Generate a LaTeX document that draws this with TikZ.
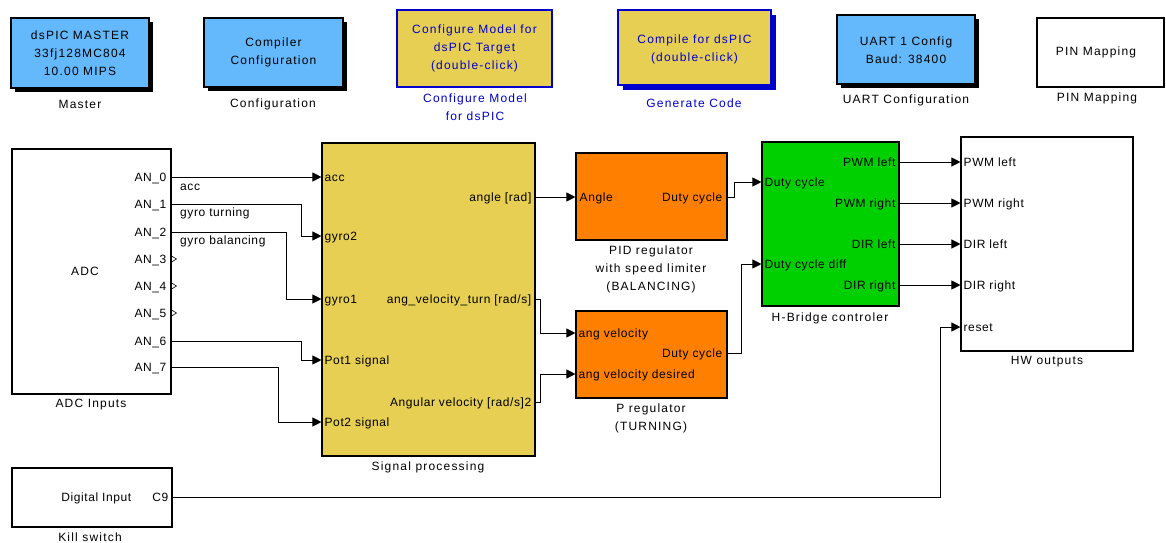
\documentclass[tikz,border=0pt]{standalone}
\usepackage{fontspec}
\setmainfont{Liberation Sans}[LetterSpace=5]
\usetikzlibrary{arrows.meta}
\definecolor{sblue}{RGB}{99,185,252}
\definecolor{syellow}{RGB}{230,207,82}
\definecolor{sorange}{RGB}{255,128,0}
\definecolor{sgreen}{RGB}{0,208,0}
\definecolor{dblue}{RGB}{0,0,205}
\begin{document}
\begin{tikzpicture}[x=1pt,y=-1pt,
  box/.style={draw=black, line width=1.1pt, inner sep=0pt, rectangle},
  txt/.style={font=\fontsize{12}{18}\selectfont\addfontfeature{LetterSpace=10}, inner sep=0pt, align=center},
  lbl/.style={font=\fontsize{12}{18}\selectfont\addfontfeature{LetterSpace=10}, inner sep=0pt, align=center},
  port/.style={font=\fontsize{12}{13}\selectfont, inner sep=0pt, text height=8.5pt, text depth=0pt},
  wire/.style={line width=1pt},
  arr/.style={wire, -{Triangle[length=9pt,width=9pt]}},
  shad/.style={fill=black},
]
\useasboundingbox (0,0) rectangle (1166,542);

% ---------- top row ----------
\fill[shad] (15,22) rectangle (153,92);
\node[box, fill=sblue, minimum width=138pt, minimum height=70pt] (master) at (80,53) {};
\node[txt] at (master.center) {dsPIC MASTER\\33fj128MC804\\10.00 MIPS};
\node[lbl] (masterl) at (80,104) {Master};

\fill[shad] (208,22) rectangle (347,91);
\node[box, fill=sblue, minimum width=139pt, minimum height=69pt] (comp) at (273.5,52.5) {};
\node[txt] at (comp.center) {Compiler\\Configuration};
\node[lbl] (compl) at (273,104) {Configuration};

\node[box, draw=dblue, fill=syellow, minimum width=155pt, minimum height=77pt] (cfgm) at (474.5,48.5) {};
\node[txt, text=dblue] at (474.5,48) {Configure Model for\\dsPIC Target\\(double-click)};
\node[lbl, text=dblue] (cfgml) at (475,107) {Configure Model\\for dsPIC};

\fill[dblue] (623,15) rectangle (776,90);
\node[box, draw=dblue, fill=syellow, minimum width=153pt, minimum height=75pt] (gen) at (694.5,47.5) {};
\node[txt, text=dblue] at (694.5,49) {Compile for dsPIC\\(double-click)};
\node[lbl, text=dblue] (genl) at (694,103) {Generate Code};

\fill[shad] (841,19) rectangle (979,88);
\node[box, fill=sblue, minimum width=138pt, minimum height=69pt] (uart) at (906,49.5) {};
\node[txt] at (906,50) {UART 1 Config\\Baud: 38400};
\node[lbl] (uartl) at (906,100) {UART Configuration};

\node[box, fill=white, minimum width=127pt, minimum height=69pt] (pin) at (1100.5,52.5) {};
\node[txt] at (1096,52) {PIN Mapping};
\node[lbl] (pinl) at (1097,98) {PIN Mapping};

% ---------- ADC ----------
\node[box, fill=white, minimum width=159pt, minimum height=245pt] (adc) at (91.5,271.5) {};
\node[txt] at (85,271) {ADC};
\node[lbl] (adcl) at (91,405) {ADC Inputs};
\foreach \n/\yy in {0/177,1/204,2/232,3/259,4/286,5/313,6/341,7/367}{
  \coordinate (a\n) at (adc.east |- 0,\yy);
  \node[port, anchor=east] at ([xshift=-5pt]a\n) {AN\_\n};
}
\foreach \n in {3,4,5}{
  \draw[line width=0.6pt] ([yshift=-3pt]a\n) -- ([xshift=5pt]a\n) -- ([yshift=3pt]a\n) -- cycle;
}

% ---------- Signal processing ----------
\node[box, fill=syellow, minimum width=213pt, minimum height=313pt] (sp) at (428.5,299.5) {};
\node[lbl] (spl) at (428,467) {Signal processing};
\coordinate (sacc) at (sp.west |- 0,177);
\coordinate (sg2) at (sp.west |- 0,236);
\coordinate (sg1) at (sp.west |- 0,299);
\coordinate (sp1) at (sp.west |- 0,360);
\coordinate (sp2) at (sp.west |- 0,422);
\node[port, anchor=west] at ([xshift=3pt]sacc) {acc};
\node[port, anchor=west] at ([xshift=3pt]sg2) {gyro2};
\node[port, anchor=west] at ([xshift=3pt]sg1) {gyro1};
\node[port, anchor=west] at ([xshift=3pt]sp1) {Pot1 signal};
\node[port, anchor=west] at ([xshift=3pt]sp2) {Pot2 signal};
\coordinate (sang) at (sp.east |- 0,197);
\coordinate (svel) at (sp.east |- 0,299);
\coordinate (sdes) at (sp.east |- 0,402);
\node[port, anchor=east] at ([xshift=-4pt]sang) {angle [rad]};
\node[port, anchor=east] at ([xshift=-4pt]svel) {ang\_velocity\_turn [rad/s]};
\node[port, anchor=east] at ([xshift=-4pt]sdes) {Angular velocity [rad/s]2};

% ---------- regulators ----------
\node[box, fill=sorange, minimum width=151pt, minimum height=87pt] (pid) at (651.5,196.5) {};
\node[lbl] (pidl) at (651,269) {PID regulator\\with speed limiter\\(BALANCING)};
\coordinate (pin1) at (pid.west |- 0,197);
\coordinate (pout) at (pid.east |- 0,197);
\node[port, anchor=west] at ([xshift=4pt]pin1) {Angle};
\node[port, anchor=east] at ([xshift=-5pt]pout) {Duty cycle};

\node[box, fill=sorange, minimum width=151pt, minimum height=87pt] (preg) at (651.5,354.5) {};
\node[lbl] (pregl) at (651,418.5) {P regulator\\(TURNING)};
\coordinate (qin1) at (preg.west |- 0,333);
\coordinate (qin2) at (preg.west |- 0,374);
\coordinate (qout) at (preg.east |- 0,353);
\node[port, anchor=west] at ([xshift=3pt]qin1) {ang velocity};
\node[port, anchor=west] at ([xshift=3pt]qin2) {ang velocity desired};
\node[port, anchor=east] at ([xshift=-5pt]qout) {Duty cycle};

% ---------- H-bridge ----------
\node[box, fill=sgreen, minimum width=137pt, minimum height=164pt] (hb) at (830.5,224) {};
\node[lbl] (hbl) at (830,318) {H-Bridge controler};
\coordinate (hin1) at (hb.west |- 0,182);
\coordinate (hin2) at (hb.west |- 0,264);
\node[port, anchor=west] at ([xshift=3pt]hin1) {Duty cycle};
\node[port, anchor=west] at ([xshift=3pt]hin2) {Duty cycle diff};
\foreach \n/\yy/\t in {1/162/PWM left,2/203/PWM right,3/244/DIR left,4/285/DIR right}{
  \coordinate (ho\n) at (hb.east |- 0,\yy);
  \node[port, anchor=east] at ([xshift=-4pt]ho\n) {\t};
}

% ---------- HW outputs ----------
\node[box, fill=white, minimum width=172pt, minimum height=214pt] (hw) at (1047,244) {};
\node[lbl] (hwl) at (1047,362) {HW outputs};
\foreach \n/\yy/\t in {1/162/PWM left,2/203/PWM right,3/244/DIR left,4/285/DIR right,5/327/reset}{
  \coordinate (hi\n) at (hw.west |- 0,\yy);
  \node[port, anchor=west] at ([xshift=3pt]hi\n) {\t};
}

% ---------- Kill switch ----------
\node[box, fill=white, minimum width=160pt, minimum height=59pt] (kill) at (92,497.5) {};
\node[lbl] (killl) at (90,537) {Kill switch};
\coordinate (kc9) at (kill.east |- 0,497);
\node[port, anchor=east] at ([xshift=-41pt]kc9) {Digital Input};
\node[port, anchor=east] at ([xshift=-4pt]kc9) {C9};

% ---------- wires ----------
\draw[arr] (a0) -- (sacc);
\node[port, anchor=west] at (180,186) {acc};
\draw[arr] (a1) -| ([xshift=-20pt]sg2) -- (sg2);
\node[port, anchor=west] at (180,212) {gyro turning};
\draw[arr] (a2) -| ([xshift=-35pt]sg1) -- (sg1);
\node[port, anchor=west] at (180,240) {gyro balancing};
\draw[arr] (a6) -| ([xshift=-20pt]sp1) -- (sp1);
\draw[arr] (a7) -| ([xshift=-43pt]sp2) -- (sp2);

\draw[arr] (sang) -- (pin1);
\draw[arr] (svel) -| ([xshift=-35pt]qin1) -- (qin1);
\draw[arr] (sdes) -| ([xshift=-35pt]qin2) -- (qin2);

\draw[arr] (pout) -| ([xshift=-27pt]hin1) -- (hin1);
\draw[arr] (qout) -| ([xshift=-20pt]hin2) -- (hin2);

\foreach \n in {1,2,3,4}{ \draw[arr] (ho\n) -- (hi\n); }
\draw[arr] (kc9) -| ([xshift=-20pt]hi5) -- (hi5);

\end{tikzpicture}
\end{document}
